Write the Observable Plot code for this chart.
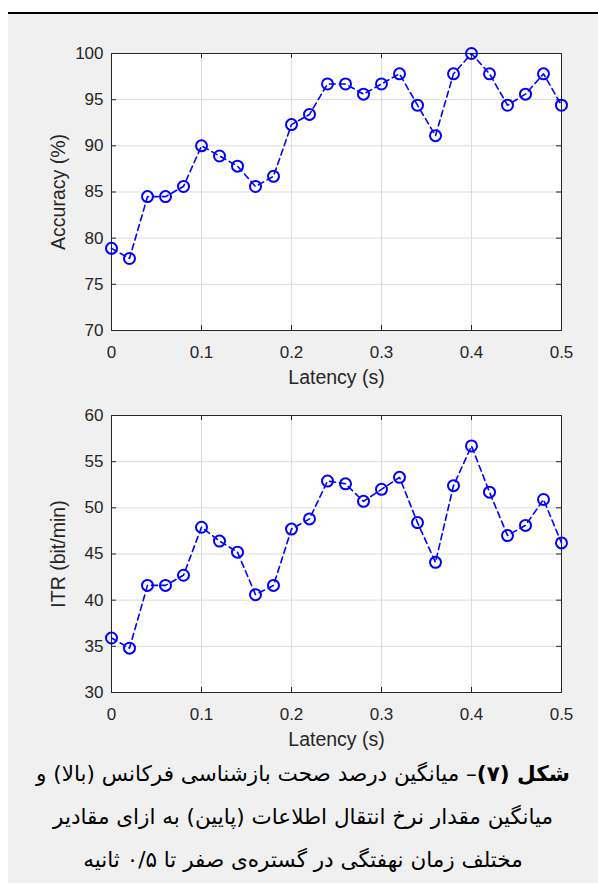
<!DOCTYPE html>
<html><head><meta charset="utf-8">
<script src="https://cdn.jsdelivr.net/npm/d3@7"></script>
<script src="https://cdn.jsdelivr.net/npm/@observablehq/plot@0.6"></script>
<style>
body{margin:0;background:#fff;width:598px;height:890px;position:relative;overflow:hidden}
#rule{position:absolute;left:8px;top:12px;width:590px;height:2px;background:#000}
#panel{position:absolute;left:8px;top:14px;width:590px;height:869px;background:#f0f0f0}
#c1,#c2{position:absolute;left:0}
#c1{top:30px}
#c2{top:392px}
#cap{position:absolute;left:8px;width:590px;top:752px;direction:rtl;text-align:center;font-family:"DejaVu Sans",sans-serif;font-size:21.5px;line-height:43px;color:#000}
</style></head>
<body>
<div id="rule"></div>
<div id="panel"></div>
<div id="c1"></div>
<div id="c2"></div>
<div id="cap"><b>شکل (۷)</b>– میانگین درصد صحت بازشناسی فرکانس (بالا) و<br>میانگین مقدار نرخ انتقال اطلاعات (پایین) به ازای مقادیر<br>مختلف زمان نهفتگی در گستره‌ی صفر تا ۰/۵ ثانیه</div>
<script>
const latency = [0,0.02,0.04,0.06,0.08,0.10,0.12,0.14,0.16,0.18,0.20,0.22,0.24,0.26,0.28,0.30,0.32,0.34,0.36,0.38,0.40,0.42,0.44,0.46,0.48,0.50];
const accuracy = [78.9,77.8,84.5,84.5,85.6,90.0,88.9,87.8,85.6,86.7,92.3,93.4,96.7,96.7,95.6,96.7,97.8,94.4,91.1,97.8,100,97.8,94.4,95.6,97.8,94.4];
const itr = [35.9,34.8,41.6,41.6,42.7,47.9,46.4,45.2,40.6,41.6,47.7,48.8,52.9,52.6,50.7,52.0,53.3,48.4,44.1,52.4,56.7,51.7,47.0,48.1,50.9,46.2];
const xTicks = [0,0.1,0.2,0.3,0.4,0.5];
const accTicks = [70,75,80,85,90,95,100];
const itrTicks = [30,35,40,45,50,55,60];
const xLabel = "Latency (s)";
const accLabel = "Accuracy (%)";
const itrLabel = "ITR (bit/min)";

function makeChart(yvals, yTicks, yLabel) {
  const data = latency.map((x, i) => ({x, y: yvals[i]}));
  const W = 598, H = 370, mL = 111, mR = 37, mT = 23, mB = 70;
  const fw = W - mL - mR, fh = H - mT - mB;
  const ink = "#262626";
  return Plot.plot({
    width: W, height: H, marginLeft: mL, marginRight: mR, marginTop: mT, marginBottom: mB,
    style: {background: "transparent", fontFamily: "'Liberation Sans', Arial, sans-serif", fontSize: "17px", color: ink},
    x: {domain: [0, 0.5]},
    y: {domain: [yTicks[0], yTicks[yTicks.length - 1]]},
    marks: [
      Plot.frame({fill: "white", stroke: "none"}),
      Plot.gridX(xTicks, {stroke: "#dcdcdc", strokeOpacity: 1}),
      Plot.gridY(yTicks, {stroke: "#dcdcdc", strokeOpacity: 1}),
      Plot.tickX(xTicks, {x: d => d, insetTop: fh - 5, stroke: ink}),
      Plot.tickX(xTicks, {x: d => d, insetBottom: fh - 5, stroke: ink}),
      Plot.tickY(yTicks, {y: d => d, insetRight: fw - 5, stroke: ink}),
      Plot.tickY(yTicks, {y: d => d, insetLeft: fw - 5, stroke: ink}),
      Plot.frame({stroke: ink}),
      Plot.line(data, {x: "x", y: "y", stroke: "#0000ff", strokeWidth: 1.6, strokeDasharray: "6,4"}),
      Plot.dot(data, {x: "x", y: "y", r: 5.5, stroke: "#0000ff", strokeWidth: 2, fill: "none"}),
      Plot.axisX(xTicks, {tickSize: 0, tickPadding: 15, label: null, tickFormat: d => String(d)}),
      Plot.axisY(yTicks, {tickSize: 0, tickPadding: 8, label: null, tickFormat: d => String(d)}),
      Plot.text([xLabel], {frameAnchor: "bottom", lineAnchor: "middle", textAnchor: "middle", dy: 47, fontSize: 19.5, text: d => d}),
      Plot.text([yLabel], {frameAnchor: "left", lineAnchor: "middle", textAnchor: "middle", rotate: -90, dx: -53, fontSize: 19.5, text: d => d})
    ]
  });
}
document.getElementById("c1").append(makeChart(accuracy, accTicks, accLabel));
document.getElementById("c2").append(makeChart(itr, itrTicks, itrLabel));
</script>
</body></html>
